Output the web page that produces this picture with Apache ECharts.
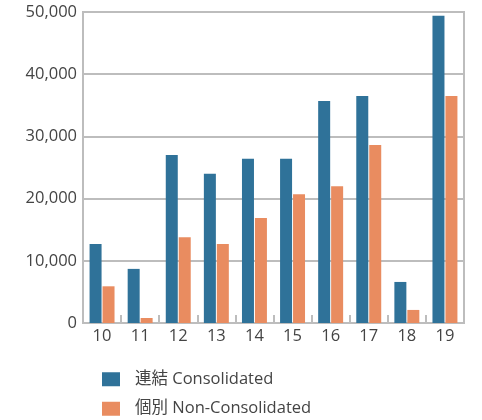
<!DOCTYPE html>
<html><head><meta charset="utf-8">
<script src="https://cdn.jsdelivr.net/npm/echarts@6/dist/echarts.min.js"></script>
<style>html,body{margin:0;padding:0;background:#fff}#c{width:482px;height:420px}</style>
</head><body><div id="c"></div>
<script>
const categories = ['10','11','12','13','14','15','16','17','18','19'];
const consolidated = [12700, 8700, 27000, 24000, 26400, 26400, 35700, 36500, 6600, 49400];
const nonConsolidated = [5900, 800, 13800, 12700, 16900, 20700, 22000, 28600, 2100, 36500];
const yTicks = [0, 10000, 20000, 30000, 40000, 50000];
const font = '"Open Sans", "Noto Sans CJK JP", sans-serif';
const chart = echarts.init(document.getElementById('c'));
chart.setOption({
  animation: false,
  grid: {left: 83, right: 18, top: 12, bottom: 97, show: true, borderColor: '#bdbdbd', borderWidth: 2},
  legend: {
    orient: 'vertical', left: 102, top: 371, padding: 0, height: 48, itemWidth: 18, itemHeight: 14, itemGap: 13,
    icon: 'rect',
    textStyle: {fontFamily: font, fontSize: 16.5, lineHeight: 14, color: '#444', padding: [0,0,0,10]},
    data: ['連結 Consolidated', '個別 Non-Consolidated']
  },
  xAxis: {
    type: 'category', data: categories,
    axisLine: {lineStyle: {color: '#bdbdbd', width: 2}},
    axisTick: {show: true, inside: true, length: 8, lineStyle: {color: '#bdbdbd', width: 2}},
    axisLabel: {fontFamily: font, fontSize: 16.5, color: '#444', margin: 5}
  },
  yAxis: {
    type: 'value', min: yTicks[0], max: yTicks[yTicks.length-1], interval: 10000,
    axisLine: {show: true, lineStyle: {color: '#bdbdbd', width: 2}},
    axisTick: {show: false},
    splitLine: {lineStyle: {color: '#bdbdbd', width: 2}},
    axisLabel: {fontFamily: font, fontSize: 16.5, color: '#444', margin: 6,
      formatter: v => v.toLocaleString('en-US')}
  },
  series: [
    {name: '連結 Consolidated', type: 'bar', data: consolidated, barWidth: 12, barGap: '8%',
     itemStyle: {color: '#2f7299'}},
    {name: '個別 Non-Consolidated', type: 'bar', data: nonConsolidated, barWidth: 12,
     itemStyle: {color: '#e98c60'}}
  ]
});
</script></body></html>
